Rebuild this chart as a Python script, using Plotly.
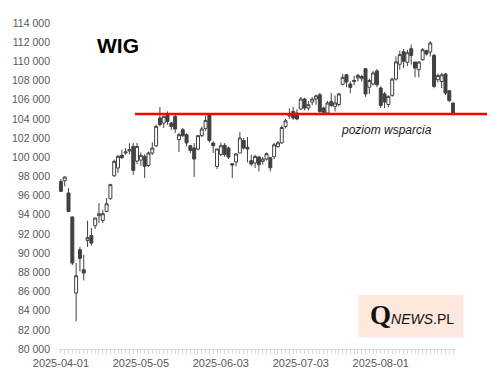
import pandas as pd
import plotly.graph_objects as go

# ---- data -------------------------------------------------------------
holidays = ["2025-04-18", "2025-04-21", "2025-05-01", "2025-06-19", "2025-08-15"]
dates = [d.strftime("%Y-%m-%d") for d in pd.bdate_range("2025-04-01", "2025-08-29")
         if d.strftime("%Y-%m-%d") not in holidays]

open_ = [97480, 97550, 96270, 93770, 85840, 90360, 88270, 91330, 91820, 92860,
         93900, 93410, 94350, 95680, 98070, 98880, 100200, 100450, 100650, 101130,
         99600, 99700, 100090, 99150, 100440, 101190, 104090, 103560, 104440, 103570,
         104260, 101830, 102870, 102350, 101200, 100960, 100850, 102250, 103010, 104440,
         101480, 99040, 100300, 101240, 100960, 99330, 99500, 100440, 101750, 101030,
         99640, 99400, 100020, 99570, 99810, 99950, 100050, 101100, 101500, 103200,
         104300, 104780, 104600, 105030, 106070, 105130, 105750, 106070, 106520, 105130,
         104610, 105820, 105300, 105500, 107600, 108600, 107640, 107900, 108280, 108190,
         109230, 107300, 107640, 109000, 107220, 106600, 105500, 106450, 108150, 109700,
         111000, 109900, 111320, 109930, 109130, 110170, 111110, 110975, 110620, 108086,
         107900, 108680, 106940, 105650]
high = [97730, 98000, 96790, 93830, 88970, 90640, 89830, 93380, 92620, 93690,
        95230, 94530, 95750, 97240, 99740, 100260, 100780, 100950, 101450, 101480,
        101500, 100500, 100300, 100600, 101550, 103400, 105240, 104330, 104780, 103680,
        104440, 102530, 103050, 102500, 101300, 101480, 102300, 103200, 104340, 104600,
        101650, 100900, 101500, 101480, 101130, 99330, 100440, 102630, 102000, 102110,
        100260, 100260, 100160, 100020, 100500, 100000, 101500, 101700, 103300, 104000,
        105100, 105240, 105000, 106280, 106200, 105870, 106270, 106530, 106700, 105300,
        105870, 106700, 106440, 106700, 108700, 108700, 107900, 108500, 108700, 108600,
        109300, 108200, 109000, 109200, 107400, 106800, 106450, 108300, 110500, 111100,
        111300, 111200, 111740, 109930, 110000, 111390, 111215, 112100, 110800, 108700,
        108800, 108800, 107000, 105700]
low = [96400, 96960, 94300, 88760, 82880, 88090, 87150, 90640, 90800, 92510,
       93140, 93140, 94250, 95570, 97940, 98360, 99820, 100250, 100300, 98180,
       99300, 99100, 97830, 99000, 100250, 101050, 103220, 103050, 103390, 102870,
       102530, 100550, 102100, 101130, 100440, 97940, 100700, 102100, 102760, 101550,
       100440, 98770, 100100, 100050, 99810, 97830, 99040, 100440, 100800, 99460,
       99110, 98870, 98520, 99220, 99660, 98520, 99800, 101000, 101400, 103000,
       104000, 103900, 103860, 104960, 104880, 104880, 105430, 105480, 104610, 104550,
       104440, 105300, 104780, 105300, 107500, 107300, 106700, 107500, 107900, 107900,
       106300, 106600, 107500, 107300, 105130, 105130, 105200, 106300, 108000, 109130,
       109300, 109500, 109650, 108330, 108330, 110060, 110600, 110500, 107200, 107800,
       107220, 106500, 105800, 104470]
close = [96440, 97940, 94350, 88970, 87640, 89450, 87930, 91610, 91050, 93660,
         94110, 94110, 95150, 97140, 99570, 100090, 99950, 100550, 100800, 98630,
         101130, 100200, 99050, 100440, 100960, 103220, 103390, 104260, 103740, 103220,
         102950, 102350, 102250, 101490, 100710, 99810, 102250, 102950, 103840, 101750,
         101200, 100860, 101200, 100270, 100020, 99190, 100340, 102010, 100960, 100860,
         99290, 100090, 99220, 99810, 100370, 98900, 101300, 101500, 103100, 103800,
         104500, 104090, 103990, 106070, 105130, 105480, 106070, 106400, 104780, 104680,
         105660, 105380, 105660, 106600, 108330, 107840, 107280, 108000, 108530, 108420,
         106600, 108000, 108790, 107560, 105400, 105760, 106350, 108150, 109950, 110700,
         110000, 110900, 110620, 109300, 109930, 111215, 110770, 111914, 107390, 108530,
         108600, 106700, 105900, 104550]

support_level = 104500
y_min, y_max, y_step = 80000, 114000, 2000
label_every = 21

# ---- figure -------------------------------------------------------------
candle_col = "#404040"
fig = go.Figure(go.Candlestick(
    x=dates, open=open_, high=high, low=low, close=close,
    increasing=dict(line=dict(color=candle_col, width=1), fillcolor="#ffffff"),
    decreasing=dict(line=dict(color=candle_col, width=1), fillcolor=candle_col),
    whiskerwidth=0, showlegend=False, hoverinfo="skip",
))

tick_text = [d if i % label_every == 0 else "" for i, d in enumerate(dates)]

fig.update_layout(
    width=496, height=381,
    margin=dict(l=59, r=41, t=23, b=32),
    paper_bgcolor="white", plot_bgcolor="white",
    separators=", ",
    boxgap=0.22, boxgroupgap=0,
    font=dict(family="Liberation Sans", size=11, color="#595959"),
    xaxis=dict(
        type="category", range=[-0.5, len(dates) - 0.5],
        rangeslider=dict(visible=False),
        tickmode="array", tickvals=dates, ticktext=tick_text,
        ticks="outside", ticklen=4, tickcolor="#d9d9d9", tickwidth=1,
        showline=True, linecolor="#d9d9d9", linewidth=1,
        showgrid=False, zeroline=False, tickangle=0,
        tickfont=dict(size=11, color="#595959"),
    ),
    yaxis=dict(
        range=[y_min, y_max], dtick=y_step, tick0=y_min,
        tickformat=",d", showgrid=False, zeroline=False, showline=False,
        ticklabelstandoff=8,
        tickfont=dict(size=10.5, color="#595959"),
    ),
)

# support line (level in data units, converted to paper fraction so it can run past the axis end)
y_sup = (support_level - y_min) / (y_max - y_min)
fig.add_shape(type="line", xref="paper", yref="paper",
              x0=0.192, x1=1.081, y0=y_sup, y1=y_sup,
              line=dict(color="#ff0000", width=2.5))

fig.add_annotation(text="<b>WIG</b>", xref="paper", yref="paper", x=0.148, y=0.931,
                   xanchor="center", yanchor="middle",
                   showarrow=False, font=dict(family="Liberation Sans", size=21, color="#000000"))
fig.add_annotation(text="<i>poziom wsparcia</i>", xref="paper", yref="paper", x=0.828, y=0.672,
                   xanchor="center", yanchor="middle",
                   showarrow=False, font=dict(family="Liberation Sans", size=12, color="#1a1a1a"))

# logo box
fig.add_shape(type="rect", xref="paper", yref="paper", x0=0.756, x1=1.021, y0=0.036, y1=0.166,
              fillcolor="#fce8dc", line=dict(width=0), layer="below")
fig.add_annotation(
    text="<span style='font-family:Liberation Serif;font-size:27px'><b>Q</b></span>"
         "<i>NEWS</i>.PL",
    xref="paper", yref="paper", x=0.891, y=0.104, xanchor="center", yanchor="middle",
    showarrow=False,
    font=dict(family="Liberation Sans", size=14, color="#111111"))

fig.write_html("out.html")
